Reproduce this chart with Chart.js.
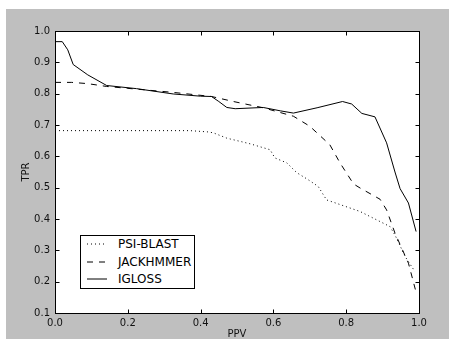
<!DOCTYPE html>
<html>
<head>
<meta charset="utf-8">
<script src="https://cdn.jsdelivr.net/npm/chart.js@4.4.0/dist/chart.umd.min.js"></script>
<style>
  body { margin: 0; background: #fff; width: 449px; height: 339px; overflow: hidden; position: relative; font-family: "DejaVu Sans", sans-serif; }
  #fig { position: absolute; left: 6px; top: 9px; width: 443px; height: 330px; background: #bfbfbf; }
  #grafico { position: absolute; left: 0; top: 0; }
  #legenda { position: absolute; left: 80px; top: 235px; width: 113px; height: 52px; background: #fff; border: 1px solid #000; font-size: 12px; color: #000; }
  .item { position: absolute; left: 6px; height: 14px; line-height: 14px; }
  .item svg { position: absolute; left: 0; top: 6px; }
  .item span { position: absolute; left: 31px; top: 0; white-space: nowrap; }
</style>
</head>
<body>
<div id="fig"><canvas id="grafico" width="443" height="330"></canvas></div>
<div id="legenda">
  <div class="item" style="top:1px"><svg width="20" height="2"><line x1="0" y1="1" x2="20" y2="1" stroke="#000" stroke-width="1" stroke-dasharray="1,3"/></svg><span>PSI-BLAST</span></div>
  <div class="item" style="top:19px"><svg width="20" height="2"><line x1="0" y1="1" x2="20" y2="1" stroke="#000" stroke-width="1" stroke-dasharray="6,6"/></svg><span>JACKHMMER</span></div>
  <div class="item" style="top:36px"><svg width="20" height="2"><line x1="0" y1="1" x2="20" y2="1" stroke="#000" stroke-width="1"/></svg><span>IGLOSS</span></div>
</div>
<script>
// dados (PPV no eixo x, TPR no eixo y)
const psiPpv = [0, 0.371, 0.42, 0.435, 0.472, 0.536, 0.591, 0.604, 0.637, 0.664, 0.696, 0.723, 0.746, 0.838, 0.92, 0.934, 0.962, 0.989];
const psiTpr = [0.682, 0.682, 0.678, 0.675, 0.658, 0.64, 0.621, 0.595, 0.579, 0.548, 0.525, 0.504, 0.461, 0.424, 0.376, 0.349, 0.28, 0.232];

const jackPpv = [0, 0.046, 0.09, 0.142, 0.2, 0.325, 0.43, 0.49, 0.572, 0.655, 0.70, 0.755, 0.783, 0.82, 0.838, 0.893, 0.911, 0.934, 0.971, 0.99];
const jackTpr = [0.836, 0.836, 0.832, 0.823, 0.817, 0.804, 0.791, 0.775, 0.755, 0.728, 0.696, 0.637, 0.579, 0.512, 0.499, 0.463, 0.429, 0.355, 0.259, 0.175];

const iglossPpv = [0, 0.02, 0.035, 0.05, 0.09, 0.142, 0.224, 0.325, 0.40, 0.43, 0.45, 0.472, 0.495, 0.572, 0.62, 0.655, 0.72, 0.79, 0.815, 0.843, 0.879, 0.911, 0.934, 0.948, 0.971, 0.992];
const iglossTpr = [0.966, 0.966, 0.94, 0.893, 0.86, 0.826, 0.816, 0.799, 0.792, 0.791, 0.775, 0.756, 0.752, 0.756, 0.745, 0.738, 0.755, 0.775, 0.767, 0.737, 0.726, 0.643, 0.55, 0.497, 0.451, 0.36];

const xTicks = [0.0, 0.2, 0.4, 0.6, 0.8, 1.0];
const yTicks = [0.1, 0.2, 0.3, 0.4, 0.5, 0.6, 0.7, 0.8, 0.9, 1.0];

function pontos(xs, ys) {
    return xs.map((x, i) => ({ x: x, y: ys[i] }));
}

// moldura e marcas de escala para dentro (estilo matplotlib)
const molduraPlugin = {
    id: 'moldura',
    beforeDraw(chart) {
        const a = chart.chartArea;
        const ctx = chart.ctx;
        ctx.save();
        ctx.fillStyle = '#fff';
        ctx.fillRect(a.left, a.top, a.right - a.left, a.bottom - a.top);
        ctx.restore();
    },
    afterDraw(chart) {
        const a = chart.chartArea;
        const ctx = chart.ctx;
        const L = Math.round(a.left) + 0.5, R = Math.round(a.right) + 0.5;
        const T = Math.round(a.top) + 0.5, B = Math.round(a.bottom) + 0.5;
        ctx.save();
        ctx.strokeStyle = '#000';
        ctx.lineWidth = 1;
        ctx.beginPath();
        chart.scales.x.ticks.forEach(t => {
            const px = Math.round(chart.scales.x.getPixelForValue(t.value)) + 0.5;
            ctx.moveTo(px, B); ctx.lineTo(px, B - 4);
            ctx.moveTo(px, T); ctx.lineTo(px, T + 4);
        });
        chart.scales.y.ticks.forEach(t => {
            const py = Math.round(chart.scales.y.getPixelForValue(t.value)) + 0.5;
            ctx.moveTo(L, py); ctx.lineTo(L + 4, py);
            ctx.moveTo(R, py); ctx.lineTo(R - 4, py);
        });
        ctx.stroke();
        ctx.strokeRect(L, T, R - L, B - T);
        ctx.restore();
    }
};

const fonte = { family: 'DejaVu Sans', size: 10 };

new Chart(document.getElementById('grafico').getContext('2d'), {
    type: 'line',
    data: {
        datasets: [
            { label: 'PSI-BLAST', data: pontos(psiPpv, psiTpr), borderColor: '#000', borderWidth: 1, borderDash: [1, 3], pointRadius: 0, tension: 0, fill: false },
            { label: 'JACKHMMER', data: pontos(jackPpv, jackTpr), borderColor: '#000', borderWidth: 1, borderDash: [6, 6], pointRadius: 0, tension: 0, fill: false },
            { label: 'IGLOSS', data: pontos(iglossPpv, iglossTpr), borderColor: '#000', borderWidth: 1, pointRadius: 0, tension: 0, fill: false }
        ]
    },
    options: {
        responsive: false,
        animation: false,
        devicePixelRatio: 1,
        layout: { padding: { left: 0, top: 22, right: 30, bottom: 0 } },
        scales: {
            x: {
                type: 'linear', min: 0, max: 1,
                grid: { display: false, drawTicks: false },
                border: { display: false },
                afterBuildTicks: s => { s.ticks = xTicks.map(v => ({ value: v })); },
                afterFit: s => { s.height = 26; },
                ticks: { color: '#111', font: fonte, padding: 4, maxRotation: 0, autoSkip: false, callback: v => v.toFixed(1) },
                title: { display: true, text: 'PPV', color: '#111', font: { family: 'DejaVu Sans', size: 10, lineHeight: 1 }, padding: 0 }
            },
            y: {
                type: 'linear', min: 0.1, max: 1.0,
                grid: { display: false, drawTicks: false },
                border: { display: false },
                afterBuildTicks: s => { s.ticks = yTicks.map(v => ({ value: v })); },
                afterFit: s => { s.width = 49; },
                ticks: { color: '#111', font: fonte, padding: 5, autoSkip: false, callback: v => v.toFixed(1) },
                title: { display: true, text: 'TPR', color: '#111', font: { family: 'DejaVu Sans', size: 10, lineHeight: 1 }, padding: { top: 15, bottom: 0 } }
            }
        },
        plugins: {
            legend: { display: false },
            tooltip: { enabled: false }
        }
    },
    plugins: [molduraPlugin]
});
</script>
</body>
</html>
